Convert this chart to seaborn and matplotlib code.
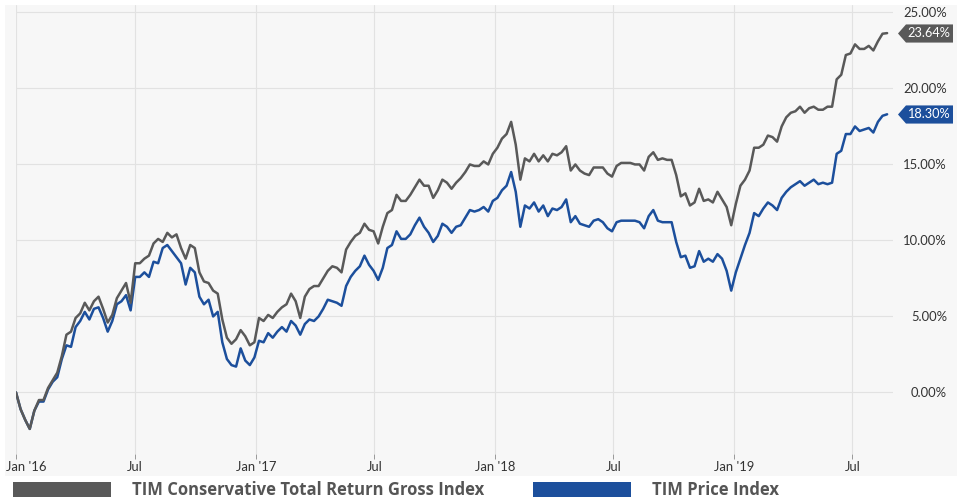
import pandas as pd
import matplotlib
matplotlib.use("Agg")
import matplotlib.pyplot as plt
from matplotlib.patches import Rectangle, Patch
from matplotlib.transforms import offset_copy, ScaledTranslation
import seaborn as sns

# ──────────────────────────────────────────────
# Data (weekly closes, % change since Jan 1 2016)
# ──────────────────────────────────────────────
START_DATE = "2016-01-01"

TOTAL_RETURN = [
    0.0, -1.1, -1.8, -2.4, -1.2, -0.5, -0.5, 0.3, 0.8, 1.3,
    2.4, 3.8, 4.0, 4.9, 5.2, 5.9, 5.4, 6.0, 6.3, 5.5,
    4.6, 5.1, 6.2, 6.7, 7.2, 5.9, 8.5, 8.5, 8.8, 9.0,
    9.8, 10.1, 9.9, 10.5, 10.2, 10.4, 9.5, 8.8, 9.7, 9.5,
    7.9, 7.3, 7.2, 6.7, 6.5, 4.8, 3.6, 3.2, 3.5, 4.1,
    3.7, 3.1, 3.3, 4.9, 4.7, 5.1, 4.9, 5.3, 5.6, 5.8,
    6.5, 6.0, 4.9, 6.3, 6.8, 7.0, 7.0, 7.5, 8.0, 8.3,
    8.2, 7.9, 9.4, 9.9, 10.3, 10.5, 11.1, 10.7, 10.6, 9.8,
    10.9, 11.8, 12.0, 13.0, 12.6, 12.6, 13.0, 13.5, 14.0, 13.6,
    13.6, 12.8, 13.3, 14.0, 13.8, 13.4, 13.8, 14.1, 14.5, 15.0,
    14.9, 14.9, 15.2, 15.0, 15.7, 16.1, 16.7, 17.0, 17.8, 16.3,
    14.0, 15.4, 15.2, 15.7, 15.2, 15.6, 15.2, 15.7, 15.6, 15.8,
    16.2, 14.6, 15.0, 14.6, 14.4, 14.3, 14.8, 14.8, 14.8, 14.4,
    14.2, 14.9, 15.1, 15.1, 15.1, 15.0, 15.0, 14.6, 15.5, 15.8,
    15.3, 15.4, 15.3, 15.3, 14.3, 12.9, 13.1, 12.3, 12.5, 13.4,
    12.6, 12.7, 12.5, 13.2, 12.7, 12.2, 11.0, 12.4, 13.6, 14.0,
    14.6, 16.1, 16.1, 16.3, 16.9, 16.8, 16.5, 17.5, 18.1, 18.4,
    18.5, 18.8, 18.4, 18.7, 18.8, 18.6, 18.6, 18.8, 18.8, 20.6,
    20.9, 22.2, 22.3, 22.9, 22.6, 22.6, 22.8, 22.5, 23.1, 23.6,
    23.64,
]

PRICE = [
    0.0, -1.1, -1.8, -2.4, -1.2, -0.6, -0.6, 0.2, 0.7, 1.0,
    2.2, 3.1, 3.0, 4.3, 4.7, 5.3, 4.8, 5.5, 5.6, 4.9,
    4.0, 4.7, 5.8, 6.0, 6.4, 5.4, 7.6, 7.6, 7.9, 7.6,
    8.6, 8.5, 9.5, 9.7, 9.3, 8.9, 8.5, 7.1, 8.2, 7.9,
    6.3, 5.8, 6.1, 5.0, 5.3, 3.3, 2.2, 1.8, 1.7, 2.9,
    2.1, 1.8, 2.3, 3.4, 3.3, 3.9, 3.6, 4.0, 4.3, 4.0,
    4.7, 4.4, 3.8, 4.5, 4.8, 4.7, 5.0, 5.5, 6.1, 6.0,
    5.9, 5.7, 7.0, 7.6, 8.0, 8.3, 9.0, 8.4, 8.0, 7.4,
    8.2, 9.5, 9.7, 10.6, 10.1, 10.1, 10.4, 11.0, 11.5, 10.9,
    10.5, 9.9, 10.3, 11.1, 10.9, 10.5, 10.9, 11.0, 11.5, 12.0,
    11.9, 12.0, 12.2, 11.9, 12.6, 12.8, 13.3, 13.6, 14.5, 13.2,
    10.9, 12.3, 12.1, 12.5, 11.9, 12.3, 11.6, 12.1, 12.0, 12.2,
    12.7, 11.2, 11.6, 11.1, 11.0, 10.9, 11.3, 11.4, 11.2, 10.8,
    10.6, 11.2, 11.3, 11.3, 11.3, 11.3, 11.2, 10.8, 11.6, 12.0,
    11.3, 11.2, 11.2, 11.2, 9.9, 8.9, 9.0, 8.2, 8.3, 9.3,
    8.6, 8.8, 8.6, 9.1, 8.8, 8.0, 6.7, 7.9, 8.8, 9.7,
    10.5, 11.8, 11.6, 12.1, 12.5, 12.3, 12.0, 12.8, 13.2, 13.5,
    13.7, 13.9, 13.6, 13.8, 14.0, 13.7, 13.8, 13.7, 13.8, 15.7,
    15.9, 17.0, 17.0, 17.5, 17.2, 17.3, 17.4, 17.1, 17.8, 18.2,
    18.30,
]

SERIES_NAMES = ["TIM Conservative Total Return Gross Index", "TIM Price Index"]
COLORS = ["#595959", "#1c4f9c"]

X_TICKS = ["2016-01-01", "2016-07-01", "2017-01-01", "2017-07-01",
           "2018-01-01", "2018-07-01", "2019-01-01", "2019-07-01"]
X_TICK_LABELS = ["Jan '16", "Jul", "Jan '17", "Jul", "Jan '18", "Jul", "Jan '19", "Jul"]
X_LIMITS = ["2016-01-01", "2019-09-01"]
Y_TICKS = [0, 5, 10, 15, 20, 25]
Y_LIMITS = (-4.05, 25.49)

# ──────────────────────────────────────────────
# Build long-form frame
# ──────────────────────────────────────────────
dates = pd.date_range(START_DATE, periods=len(TOTAL_RETURN), freq="7D")
df = pd.concat([
    pd.DataFrame({"date": dates, "value": TOTAL_RETURN, "series": SERIES_NAMES[0]}),
    pd.DataFrame({"date": dates, "value": PRICE, "series": SERIES_NAMES[1]}),
], ignore_index=True)

sns.set_theme(style="whitegrid")
plt.rcParams["font.family"] = ["Lato", "DejaVu Sans"]

W, H = 957, 503
fig = plt.figure(figsize=(W / 100, H / 100), dpi=100)
fig.patch.set_facecolor("white")

# light grey panel behind plot + axis labels
fig.add_artist(Rectangle((5 / W, 27 / H), 952 / W, 471 / H, transform=fig.transFigure,
                         facecolor="#f7f7f7", edgecolor="none", zorder=-1))

ax = fig.add_axes([16 / W, 49 / H, 877 / W, 449 / H])
ax.set_facecolor("#f7f7f7")

palette = dict(zip(SERIES_NAMES, COLORS))
sns.lineplot(data=df, x="date", y="value", hue="series",
             hue_order=[SERIES_NAMES[1], SERIES_NAMES[0]], palette=palette,
             estimator=None, linewidth=1.8, legend=False, ax=ax)

ax.set_xlim(pd.to_datetime(X_LIMITS[0]), pd.to_datetime(X_LIMITS[1]))
ax.set_ylim(*Y_LIMITS)
ax.set_xlabel("")
ax.set_ylabel("")

for s in ax.spines.values():
    s.set_visible(False)
ax.grid(True, color="#e2e2e2", linewidth=0.8)
ax.set_axisbelow(True)

# x axis
ax.set_xticks(pd.to_datetime(X_TICKS), labels=X_TICK_LABELS)
ax.tick_params(axis="x", length=3.6, width=0.7, color="#999999", pad=1.5,
               labelsize=9.4, labelcolor="#333333", bottom=True)
first = ax.get_xticklabels()[0]
first.set_ha("left")
first.set_transform(first.get_transform() + ScaledTranslation(-10 / 100, 0, fig.dpi_scale_trans))

# y axis on the right
ax.yaxis.tick_right()
ax.set_yticks(Y_TICKS, labels=[f"{v:.2f}%" for v in Y_TICKS], ha="right")
ax.tick_params(axis="y", length=0, pad=38.9, labelsize=9.4, labelcolor="#333333")

# end-value tags
tag_shape = [(-1, 0), (-0.71, 0.33), (1, 0.33), (1, -0.33), (-0.71, -0.33), (-1, 0)]
for vals, color in zip([TOTAL_RETURN, PRICE], COLORS):
    last = vals[-1]
    tr_box = offset_copy(ax.get_yaxis_transform(), fig=fig, x=31.5, units="dots")
    ax.plot([1], [last], marker=tag_shape, markersize=39.6, color=color,
            markeredgewidth=0, linestyle="none", transform=tr_box, clip_on=False)
    tr_txt = offset_copy(ax.get_yaxis_transform(), fig=fig, x=35.5, units="dots")
    ax.text(1, last, f"{last:.2f}%", transform=tr_txt, ha="center", va="center",
            color="white", fontsize=9.2, clip_on=False)

# legend at the bottom
handles = [Patch(facecolor=c, edgecolor="none") for c in COLORS]
fig.legend(handles, SERIES_NAMES, loc="center left", bbox_to_anchor=(13 / W, 13 / H),
           ncol=2, frameon=False, handlelength=5.9, handleheight=0.96,
           handletextpad=1.26, columnspacing=2.9, borderpad=0, borderaxespad=0,
           prop={"family": "Open Sans", "weight": "bold", "size": 12}, labelcolor="#555555")

fig.savefig("out.png", dpi=100)
plt.close(fig)
